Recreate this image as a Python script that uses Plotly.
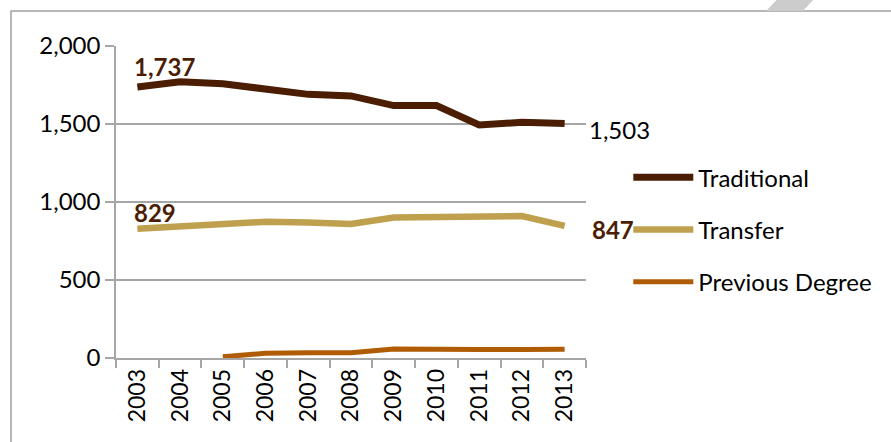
import plotly.graph_objects as go

years = ["2003", "2004", "2005", "2006", "2007", "2008", "2009", "2010", "2011", "2012", "2013"]
traditional = [1737, 1771, 1758, 1724, 1690, 1680, 1618, 1618, 1494, 1511, 1503]
transfer = [829, 845, 858, 873, 869, 859, 901, 901, 904, 910, 847]
previous_degree = [None, None, 8, 30, 33, 33, 58, 54, 54, 54, 56]
y_ticks = [0, 500, 1000, 1500, 2000]
y_tick_labels = ["0", "500", "1,000", "1,500", "2,000"]

C_TRAD = "#4b1e04"
C_TRANS = "#bfa04e"
C_PREV = "#b05c04"
FONT = "Lato"

fig = go.Figure()
fig.add_trace(go.Scatter(x=years, y=traditional, name="Traditional", mode="lines",
                         line=dict(color=C_TRAD, width=7), legendgroup="a"))
fig.add_trace(go.Scatter(x=years, y=transfer, name="Transfer", mode="lines",
                         line=dict(color=C_TRANS, width=6.5), legendgroup="b"))
fig.add_trace(go.Scatter(x=years, y=previous_degree, name="Previous Degree", mode="lines",
                         line=dict(color=C_PREV, width=5), legendgroup="c"))

first, last = 0, len(years) - 1
ann = []
ann.append(dict(x=first, y=traditional[first], text="<b>%s</b>" % f"{traditional[first]:,}",
                xanchor="left", yanchor="middle", xshift=-5, yshift=21, showarrow=False,
                font=dict(family=FONT, size=24, color=C_TRAD)))
ann.append(dict(x=first, y=transfer[first], text="<b>%s</b>" % f"{transfer[first]:,}",
                xanchor="left", yanchor="middle", xshift=-5, yshift=16, showarrow=False,
                font=dict(family=FONT, size=24, color=C_TRAD)))
ann.append(dict(x=last, y=traditional[last], text=f"{traditional[last]:,}",
                xanchor="left", yanchor="middle", xshift=22, yshift=-6, showarrow=False,
                font=dict(family=FONT, size=24, color="#000000")))
ann.append(dict(x=last, y=transfer[last], text="<b>%s</b>" % f"{transfer[last]:,}",
                xanchor="left", yanchor="middle", xshift=25, yshift=-4, showarrow=False,
                font=dict(family=FONT, size=24, color=C_TRAD)))

shapes = [
    dict(type="rect", xref="paper", yref="paper", x0=-0.2234, x1=1.7, y0=-0.3, y1=1.112,
         line=dict(color="#a0a0a0", width=1.5), fillcolor="rgba(0,0,0,0)", layer="below"),
    dict(type="path", xref="paper", yref="paper",
         path="M 1.4055 1.1474 L 1.4834 1.1474 L 1.4610 1.1122 L 1.3830 1.1122 Z",
         fillcolor="#cccccc", line=dict(width=0)),
]

fig.update_layout(
    width=891, height=442,
    margin=dict(l=116, r=305, t=46, b=84),
    paper_bgcolor="white", plot_bgcolor="white",
    font=dict(family=FONT, size=24, color="#000000"),
    showlegend=True,
    legend=dict(x=1.09, y=0.65, xanchor="left", yanchor="top",
                font=dict(family=FONT, size=24, color="#000000"),
                tracegroupgap=18, itemwidth=60, bgcolor="rgba(0,0,0,0)"),
    annotations=ann,
    shapes=shapes,
    xaxis=dict(type="category", tickangle=-90, showgrid=False, showline=True,
               linecolor="#a6a6a6", linewidth=1.5, ticks="outside", ticklen=8,
               tickcolor="#a6a6a6", tickwidth=1.5, tickson="boundaries",
               tickfont=dict(family=FONT, size=23), range=[-0.5, 10.5]),
    yaxis=dict(range=[0, 2000], tickvals=y_ticks, ticktext=y_tick_labels,
               showgrid=True, gridcolor="#a6a6a6", gridwidth=1.5, zeroline=False,
               showline=True, linecolor="#a6a6a6", linewidth=1.5,
               ticks="outside", ticklen=9, tickcolor="#a6a6a6", tickwidth=1.5,
               tickfont=dict(family=FONT, size=24)),
)

fig.write_html("out.html", config={"displayModeBar": False},
               post_script="document.body.style.margin='0';document.body.style.overflow='hidden';")
